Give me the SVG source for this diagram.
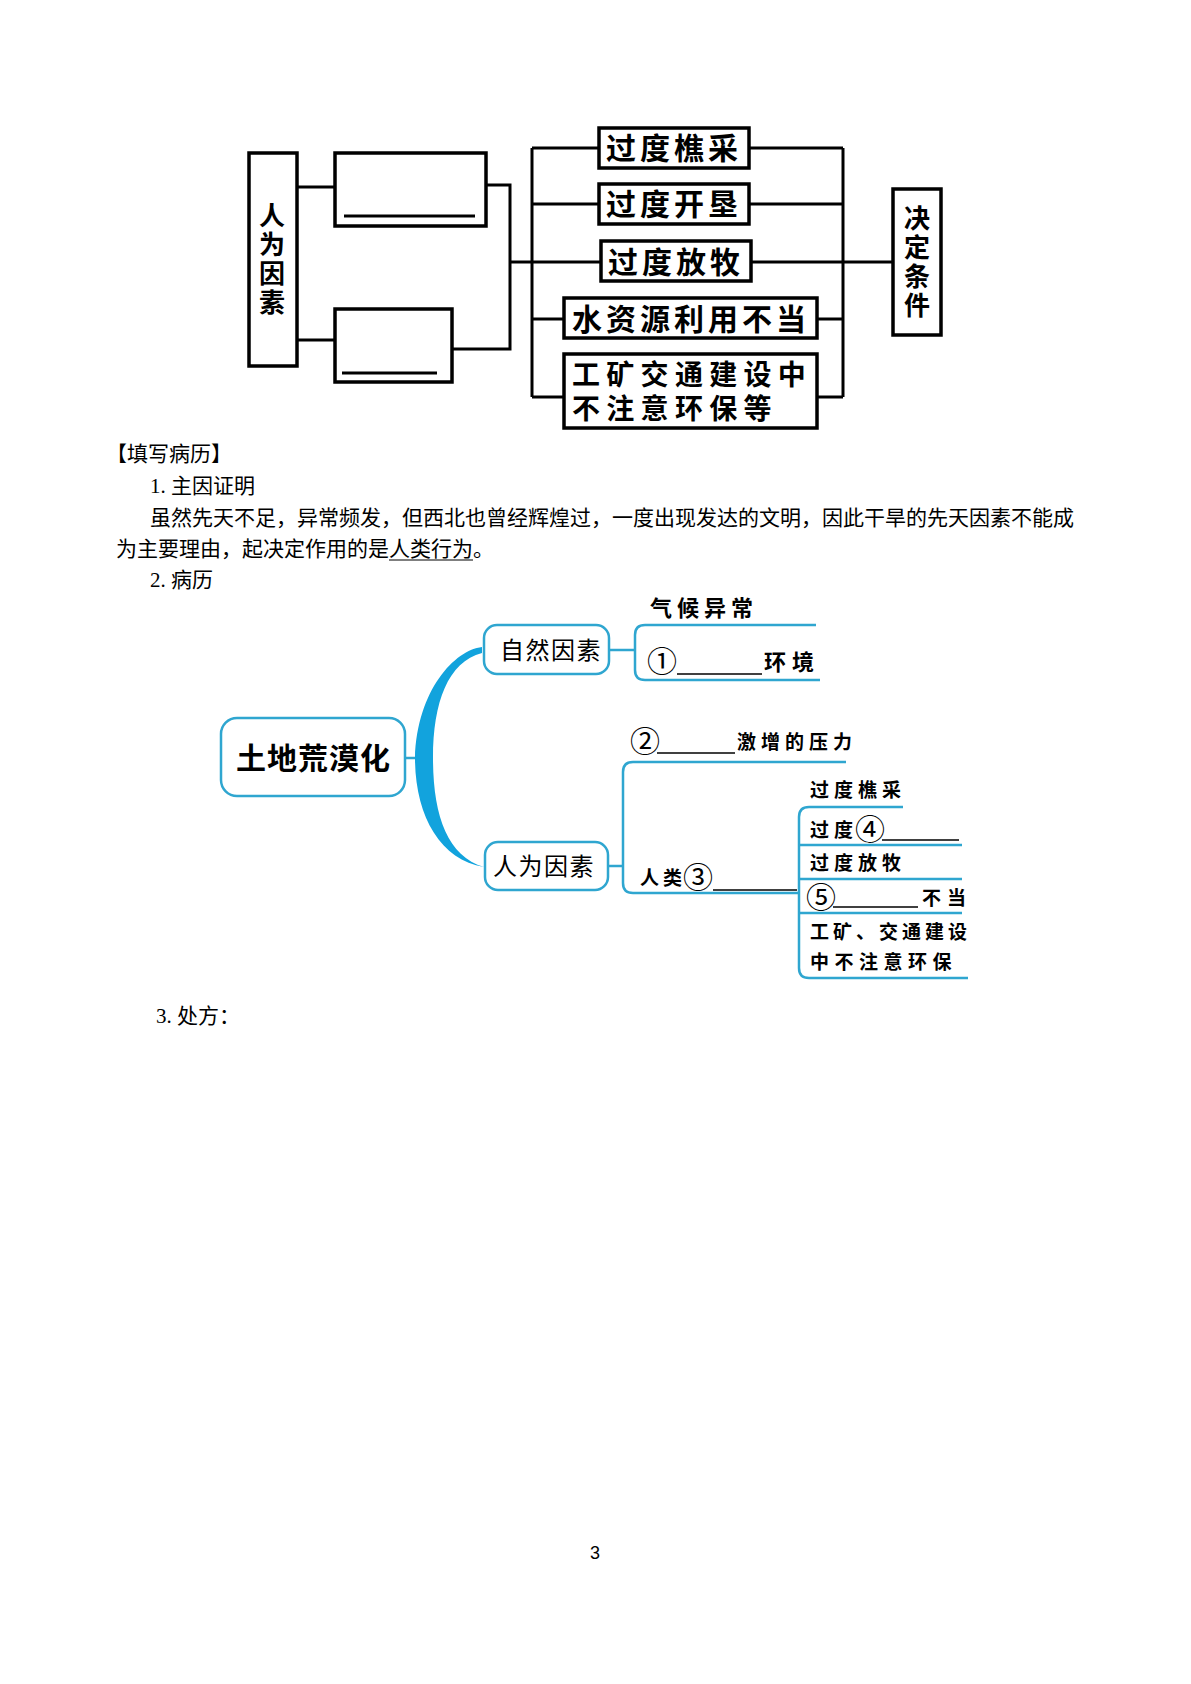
<svg xmlns="http://www.w3.org/2000/svg" width="1191" height="1684" viewBox="0 0 1191 1684">
<style>
.bx{fill:#fff;stroke:#000;stroke-width:3.5}
.ln{fill:none;stroke:#000;stroke-width:3}
.bt{font-family:"Noto Sans CJK SC",sans-serif;font-weight:bold;font-size:30px;letter-spacing:4px;fill:#000}
.vt{font-family:"Noto Sans CJK SC",sans-serif;font-weight:bold;font-size:26px;letter-spacing:3px;fill:#000;writing-mode:vertical-rl}
.body{font-family:"Liberation Serif","Noto Sans CJK SC",serif;font-size:21px;fill:#000}
.mb{fill:#fff;stroke:#2FA6D0;stroke-width:2.5}
.ml{fill:none;stroke:#2FA6D0;stroke-width:2.5}
.mt{font-family:"Noto Sans CJK SC",sans-serif;font-size:24px;letter-spacing:1.5px;fill:#000}
.st{font-family:"Noto Sans CJK SC",sans-serif;font-weight:bold;font-size:19px;letter-spacing:5px;fill:#000}
.cd{font-family:"Noto Sans CJK SC",sans-serif;font-size:30px;fill:#000}
.ul{stroke:#000;stroke-width:1.5}
</style>

<g id="connectors">
  <line class="ln" x1="297" y1="187" x2="335" y2="187"/>
  <line class="ln" x1="297" y1="340" x2="335" y2="340"/>
  <path class="ln" d="M486 185 H510 V349 H452"/>
  <line class="ln" x1="510" y1="262" x2="532" y2="262"/>
  <line class="ln" x1="532" y1="148" x2="532" y2="397"/>
  <line class="ln" x1="532" y1="148" x2="599" y2="148"/>
  <line class="ln" x1="532" y1="204" x2="599" y2="204"/>
  <line class="ln" x1="532" y1="262" x2="601" y2="262"/>
  <line class="ln" x1="532" y1="319" x2="564" y2="319"/>
  <line class="ln" x1="532" y1="397" x2="564" y2="397"/>
  <line class="ln" x1="749" y1="148" x2="843" y2="148"/>
  <line class="ln" x1="749" y1="204" x2="843" y2="204"/>
  <line class="ln" x1="751" y1="262" x2="843" y2="262"/>
  <line class="ln" x1="817" y1="319" x2="843" y2="319"/>
  <line class="ln" x1="817" y1="397" x2="843" y2="397"/>
  <line class="ln" x1="843" y1="148" x2="843" y2="397"/>
  <line class="ln" x1="843" y1="262" x2="893" y2="262"/>

  <line class="ml" x1="405" y1="758" x2="418" y2="758"/>
  <path d="M482 647 C455 650 417 690 415 758 C415 815 440 860 484 867 C447 856 433 815 433 758 C433 702 448 662 482 653 Z" fill="#12A3DD"/>
  <line class="ml" x1="609" y1="650" x2="635" y2="650"/>
  <path class="ml" d="M816 625 H645 Q635 625 635 635 V670 Q635 680 645 680 H820"/>
  <line class="ml" x1="608" y1="866" x2="623" y2="866"/>
  <path class="ml" d="M846 762 H633 Q623 762 623 772 V883 Q623 893 633 893 H799"/>
  <path class="ml" d="M903 807 H809 Q799 807 799 817 V968 Q799 978 809 978 H968"/>
  <line class="ml" x1="799" y1="845" x2="962" y2="845"/>
  <line class="ml" x1="799" y1="879" x2="962" y2="879"/>
  <line class="ml" x1="799" y1="913" x2="962" y2="913"/>
</g>

<g id="node-renwei">
  <rect class="bx" x="249" y="153" width="48" height="213"/>
  <text class="vt" x="272" y="202">人为因素</text>
</g>
<g id="node-blank1">
  <rect class="bx" x="335" y="153" width="151" height="73"/>
  <line class="ln" x1="344" y1="216" x2="475" y2="216" stroke-width="2.5"/>
</g>
<g id="node-blank2">
  <rect class="bx" x="335" y="309" width="117" height="73"/>
  <line class="ln" x1="342" y1="373" x2="437" y2="373" stroke-width="2.5"/>
</g>
<g id="node-qiaocai">
  <rect class="bx" x="599" y="128" width="150" height="40"/>
  <text class="bt" x="606" y="159">过度樵采</text>
</g>
<g id="node-kaiken">
  <rect class="bx" x="599" y="184" width="150" height="40"/>
  <text class="bt" x="606" y="215">过度开垦</text>
</g>
<g id="node-fangmu">
  <rect class="bx" x="601" y="241" width="150" height="40"/>
  <text class="bt" x="608" y="273">过度放牧</text>
</g>
<g id="node-shuiziyuan">
  <rect class="bx" x="564" y="298" width="253" height="40"/>
  <text class="bt" x="572" y="330">水资源利用不当</text>
</g>
<g id="node-gongkuang">
  <rect class="bx" x="564" y="354" width="253" height="74"/>
  <text class="bt" style="font-size:28px;letter-spacing:6.3px"><tspan x="572" y="385">工矿交通建设中</tspan><tspan x="572" y="419">不注意环保等</tspan></text>
</g>
<g id="node-jueding">
  <rect class="bx" x="893" y="189" width="48" height="146"/>
  <text class="vt" x="917" y="205">决定条件</text>
</g>

<g id="body-text">
  <text class="body" x="106" y="461">【填写病历】</text>
  <text class="body" x="150" y="493">1. 主因证明</text>
  <text class="body" x="150" y="525">虽然先天不足，异常频发，但西北也曾经辉煌过，一度出现发达的文明，因此干旱的先天因素不能成</text>
  <text class="body" x="116" y="556">为主要理由，起决定作用的是人类行为。</text>
  <line x1="389" y1="560" x2="473" y2="560" stroke="#000" stroke-width="1.2"/>
  <text class="body" x="150" y="587">2. 病历</text>
  <text class="body" x="156" y="1023">3. 处方：</text>
  <text x="595" y="1559" font-family="Liberation Sans, sans-serif" font-size="18" text-anchor="middle">3</text>
</g>

<g id="node-tudi">
  <rect class="mb" x="221" y="718" width="184" height="78" rx="16"/>
  <text x="236" y="769" font-family="Noto Sans CJK SC, sans-serif" font-weight="bold" font-size="30" letter-spacing="1">土地荒漠化</text>
</g>
<g id="node-ziran">
  <rect class="mb" x="484" y="625" width="125" height="49" rx="13"/>
  <text class="mt" x="500" y="659">自然因素</text>
</g>
<g id="node-renwei2">
  <rect class="mb" x="485" y="842" width="123" height="48" rx="13"/>
  <text class="mt" x="493" y="875">人为因素</text>
</g>

<g id="node-qihou">
  <text class="st" x="650" y="616" style="font-size:22px">气候异常</text>
</g>
<g id="node-blank-1">
  <text class="cd" x="647" y="672">①</text>
  <line class="ul" x1="677" y1="674" x2="762" y2="674"/>
  <text class="st" x="764" y="670" style="font-size:22px;letter-spacing:6px">环境</text>
</g>
<g id="node-blank-2">
  <text class="cd" x="630" y="752">②</text>
  <line class="ul" x1="657" y1="753" x2="735" y2="753"/>
  <text class="st" x="737" y="749">激增的压力</text>
</g>
<g id="node-blank-3">
  <text class="st" x="640" y="885" style="letter-spacing:4px">人类</text>
  <text class="cd" x="683" y="888">③</text>
  <line class="ul" x1="713" y1="890" x2="797" y2="890"/>
</g>
<g id="node-qiaocai2">
  <text class="st" x="810" y="797">过度樵采</text>
</g>
<g id="node-blank-4">
  <text class="st" x="810" y="837">过度</text>
  <text class="cd" x="855" y="840">④</text>
  <line class="ul" x1="882" y1="840" x2="959" y2="840"/>
</g>
<g id="node-fangmu2">
  <text class="st" x="810" y="870">过度放牧</text>
</g>
<g id="node-blank-5">
  <text class="cd" x="806" y="908">⑤</text>
  <line class="ul" x1="833" y1="907" x2="918" y2="907"/>
  <text class="st" x="922" y="905" style="letter-spacing:6px">不当</text>
</g>
<g id="node-gongkuang2">
  <text class="st"><tspan x="810" y="939" style="letter-spacing:4px">工矿、交通建设</tspan><tspan x="810" y="969" style="letter-spacing:5.5px">中不注意环保</tspan></text>
</g>
</svg>
